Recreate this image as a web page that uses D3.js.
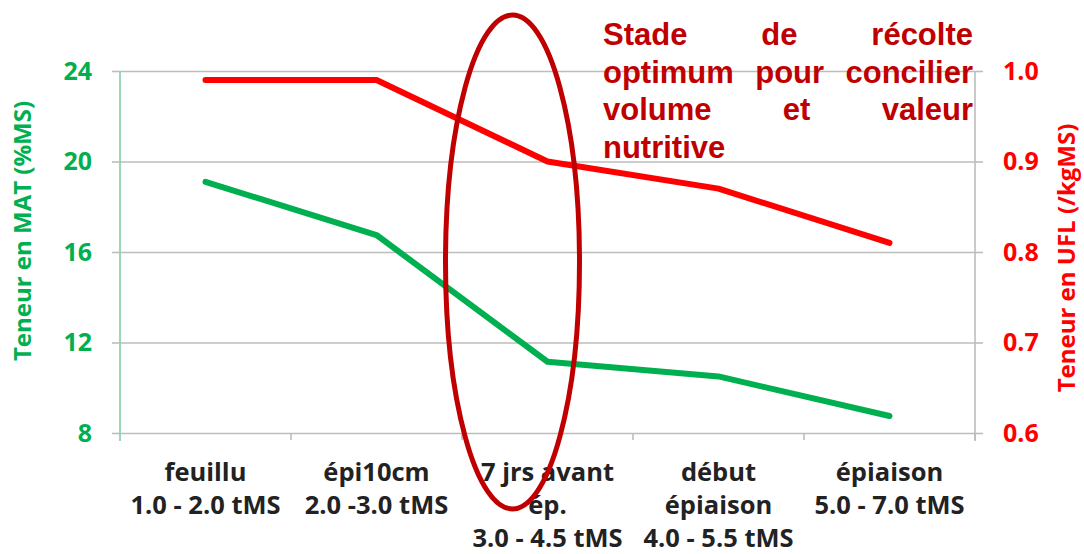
<!DOCTYPE html>
<html><head><meta charset="utf-8">
<script src="https://cdn.jsdelivr.net/npm/d3@7"></script>
<style>body{margin:0;background:#fff}svg{display:block}</style>
</head><body>
<svg id="c" width="1084" height="554"></svg>
<script>
// ---- data ----
const catKeys = ["feuillu", "épi10cm", "7 jrs avant ép.", "début épiaison", "épiaison"];
const catLabelLines = [
  ["feuillu", "1.0 - 2.0 tMS"],
  ["épi10cm", "2.0 -3.0 tMS"],
  ["7 jrs avant", "ép.", "3.0 - 4.5 tMS"],
  ["début", "épiaison", "4.0 - 5.5 tMS"],
  ["épiaison", "5.0 - 7.0 tMS"]
];
const matValues = [19.1, 16.75, 11.15, 10.5, 8.75];
const uflValues = [0.99, 0.99, 0.90, 0.87, 0.81];
const leftTicks = [8, 12, 16, 20, 24];
const rightTicks = [0.6, 0.7, 0.8, 0.9, 1.0];
const leftTitle = "Teneur en MAT (%MS)";
const rightTitle = "Teneur en UFL (/kgMS)";
const annotationLines = [
  ["Stade", "de", "récolte"],
  ["optimum", "pour", "concilier"],
  ["volume", "et", "valeur"],
  ["nutritive"]
];
const highlightCategory = "7 jrs avant ép.";

// ---- layout ----
const L = 120, R = 975, T = 71, B = 433;
const svg = d3.select("#c");
const calibri = "'Open Sans', 'Lato', sans-serif";

const x = d3.scaleBand().domain(catKeys).range([L, R]);
const yL = d3.scaleLinear().domain([8, 24]).range([B, T]);
const yR = d3.scaleLinear().domain([0.6, 1.0]).range([B, T]);

// gridlines
svg.append("g").attr("transform", `translate(${L},0)`)
  .call(d3.axisRight(yL).tickValues(leftTicks).tickSize(R - L).tickFormat(""))
  .call(g => g.select(".domain").remove())
  .call(g => g.selectAll(".tick line").attr("stroke", "#bdbdbd").attr("stroke-width", 1.6));

// left axis
const gl = svg.append("g").attr("transform", `translate(${L},0)`)
  .call(d3.axisLeft(yL).tickValues(leftTicks).tickSize(8).tickPadding(20).tickFormat(d3.format("d")));
gl.select(".domain").attr("d", `M0,${T}V${B + 8}`).attr("stroke", "#7fd0a6").attr("stroke-width", 1.6);
gl.selectAll(".tick line").attr("stroke", "#bdbdbd").attr("stroke-width", 1.6);
gl.selectAll(".tick text").attr("fill", "#00B050").attr("font-family", calibri)
  .attr("font-weight", "bold").attr("font-size", 25);

// right axis
const gr = svg.append("g").attr("transform", `translate(${R},0)`)
  .call(d3.axisRight(yR).tickValues(rightTicks).tickSize(8).tickPadding(20).tickFormat(d3.format(".1f")));
gr.select(".domain").attr("d", `M0,${T}V${B + 8}`).attr("stroke", "#bdbdbd").attr("stroke-width", 1.6);
gr.selectAll(".tick line").attr("stroke", "#bdbdbd").attr("stroke-width", 1.6);
gr.selectAll(".tick text").attr("fill", "#FF0000").attr("font-family", calibri)
  .attr("font-weight", "bold").attr("font-size", 25);

// bottom category ticks
const bandEdges = catKeys.slice(1).map(k => x(k)).concat([R]);
svg.append("g").selectAll("line").data(bandEdges).join("line")
  .attr("x1", d => d).attr("x2", d => d).attr("y1", B).attr("y2", B + 7)
  .attr("stroke", "#bdbdbd").attr("stroke-width", 1.6);

// category labels
const cl = svg.append("g").attr("font-family", calibri).attr("font-weight", "bold")
  .attr("font-size", 25.5).attr("fill", "#222").attr("text-anchor", "middle");
catKeys.forEach((k, i) => {
  const t = cl.append("text").attr("x", x(k) + x.bandwidth() / 2).attr("y", 481);
  catLabelLines[i].forEach((line, j) => {
    t.append("tspan").attr("x", x(k) + x.bandwidth() / 2).attr("y", 481 + j * 33).text(line);
  });
});

// axis titles
svg.append("text").attr("transform", `translate(31,${(T + B) / 2 - 21}) rotate(-90)`)
  .attr("text-anchor", "middle").attr("font-family", calibri).attr("font-weight", "bold")
  .attr("font-size", 24).attr("fill", "#00B050").text(leftTitle);
svg.append("text").attr("transform", `translate(1075,${(T + B) / 2 + 6}) rotate(-90)`)
  .attr("text-anchor", "middle").attr("font-family", calibri).attr("font-weight", "bold")
  .attr("font-size", 24).attr("fill", "#FF0000").text(rightTitle);

// lines
const cx = (d, i) => x(catKeys[i]) + x.bandwidth() / 2;
svg.append("path").datum(matValues)
  .attr("d", d3.line().x(cx).y(d => yL(d)))
  .attr("fill", "none").attr("stroke", "#00B050").attr("stroke-width", 6)
  .attr("stroke-linecap", "round").attr("stroke-linejoin", "round");
svg.append("path").datum(uflValues)
  .attr("d", d3.line().x(cx).y(d => yR(d)))
  .attr("fill", "none").attr("stroke", "#FF0000").attr("stroke-width", 6)
  .attr("stroke-linecap", "round").attr("stroke-linejoin", "round");

// highlight ellipse
svg.append("ellipse")
  .attr("cx", x(highlightCategory) + x.bandwidth() / 2 - 35)
  .attr("cy", 262).attr("rx", 67).attr("ry", 247)
  .attr("fill", "none").attr("stroke", "#C00000").attr("stroke-width", 5);

// annotation (justified)
const ax0 = 603, ax1 = 973;
const an = svg.append("g").attr("font-family", "'Liberation Sans', Arial, sans-serif")
  .attr("font-weight", "bold").attr("font-size", 31).attr("fill", "#C00000");
annotationLines.forEach((words, li) => {
  const yb = 45 + li * 37.5;
  const nodes = words.map(w => an.append("text").attr("y", yb).text(w));
  const widths = nodes.map(n => n.node().getComputedTextLength());
  if (words.length === 1) { nodes[0].attr("x", ax0); return; }
  const gap = (ax1 - ax0 - d3.sum(widths)) / (words.length - 1);
  let cur = ax0;
  nodes.forEach((n, i) => { n.attr("x", cur); cur += widths[i] + gap; });
});
</script>
</body></html>
